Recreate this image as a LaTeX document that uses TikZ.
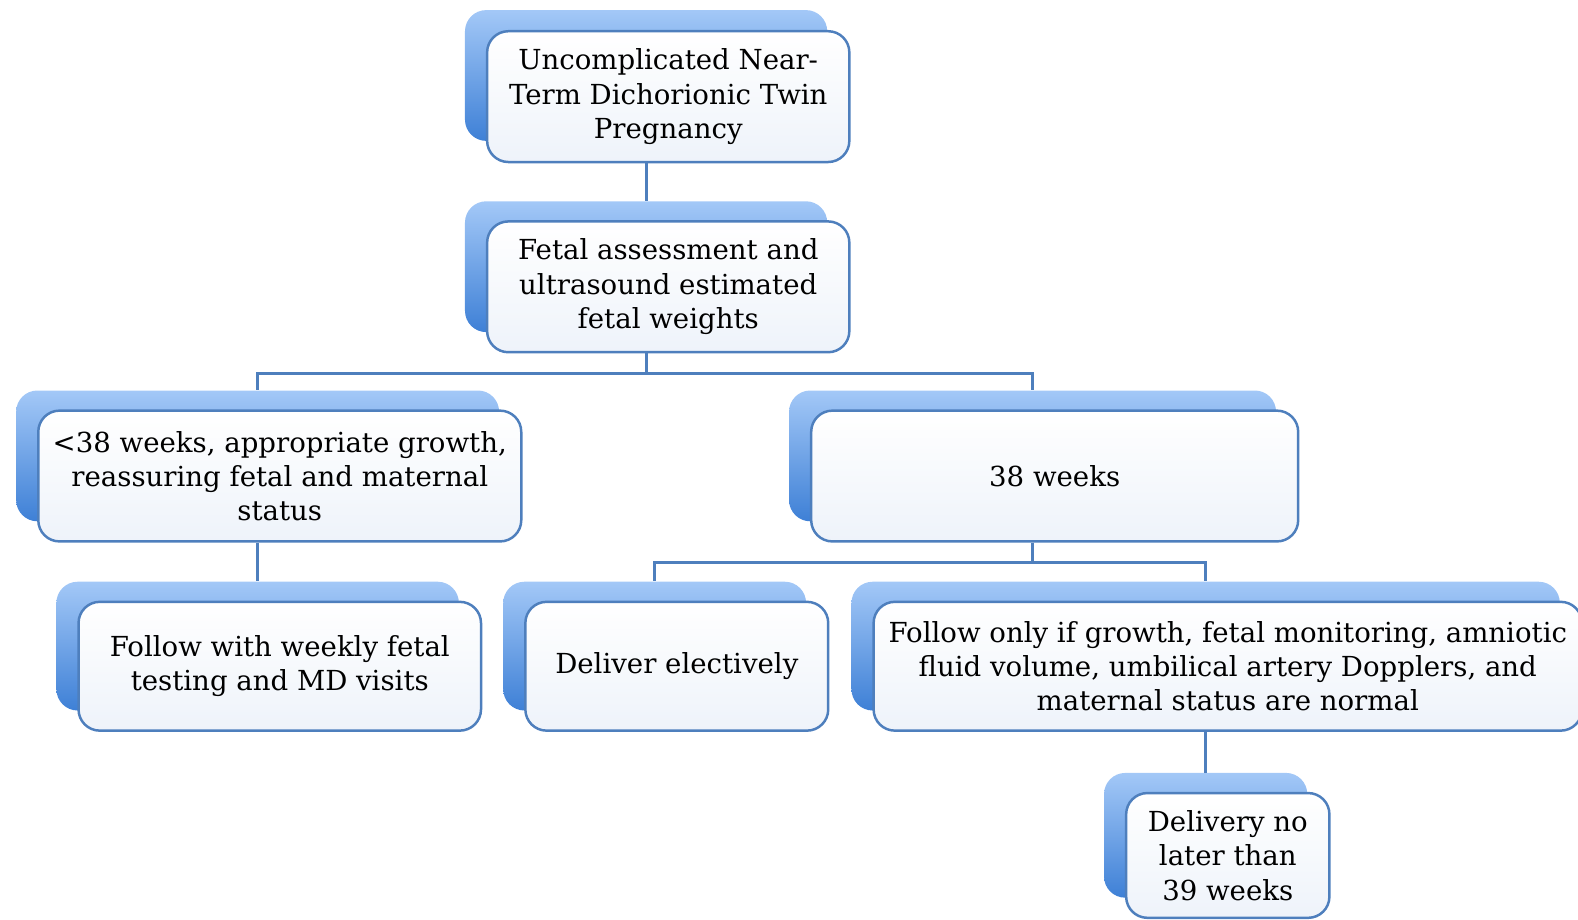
\documentclass[tikz,border=0pt]{standalone}
\usepackage{fontspec}
\setmainfont{DejaVu Serif}
\usepackage{tikz}
\usepackage{xcolor}
\definecolor{edgeblue}{HTML}{4E7FBD}
\definecolor{tabtop}{HTML}{A3C8F7}
\definecolor{tabbot}{HTML}{3E80D6}
\definecolor{facebot}{HTML}{EEF3FA}
\tikzset{
  tabbox/.style = {rounded corners=12pt, top color=tabtop, bottom color=tabbot,
    draw=none, inner sep=0pt},
  facebox/.style = {rounded corners=12pt, draw=edgeblue, line width=1.4pt,
    top color=white, bottom color=facebot, inner sep=0pt, align=center,
    font=\fontsize{15.6}{19.4}\selectfont},
  link/.style = {draw=edgeblue, line width=1.7pt}
}

\begin{document}
\begin{tikzpicture}[x=0.02cm, y=-0.02cm]
		\useasboundingbox (0, 0) rectangle (1568, 914);
		% top
		\node [tabbox, minimum width=7.2cm, minimum height=2.6cm] (twinT) at (642, 75) {};
		\node [facebox, minimum width=7.2cm, minimum height=2.6cm] (twin) at (664, 96)
		{Uncomplicated Near-\\Term Dichorionic Twin\\Pregnancy};
		\node [tabbox, minimum width=7.2cm, minimum height=2.6cm] (assessT) at (642, 265) {};
		\node [facebox, minimum width=7.2cm, minimum height=2.6cm] (assess) at (664, 285)
		{Fetal assessment and\\ultrasound estimated\\fetal weights};
		% second row
		\node [tabbox, minimum width=9.6cm, minimum height=2.6cm] (earlyT) at (256, 453) {};
		\node [facebox, minimum width=9.6cm, minimum height=2.6cm] (early) at (278, 473)
		{<38 weeks, appropriate growth,\\reassuring fetal and maternal\\status};
		\node [tabbox, minimum width=9.68cm, minimum height=2.6cm] (termT) at (1026, 453) {};
		\node [facebox, minimum width=9.68cm, minimum height=2.6cm] (term) at (1048, 473)
		{38 weeks};
		% third row
		\node [tabbox, minimum width=8cm, minimum height=2.56cm] (weeklyT) at (256, 642) {};
		\node [facebox, minimum width=8cm, minimum height=2.56cm] (weekly) at (278, 662)
		{Follow with weekly fetal\\testing and MD visits};
		\node [tabbox, minimum width=6.02cm, minimum height=2.56cm] (electT) at (650.5, 642) {};
		\node [facebox, minimum width=6.02cm, minimum height=2.56cm] (elect) at (672.5, 662)
		{Deliver electively};
		\node [tabbox, minimum width=14.08cm, minimum height=2.56cm] (normalT) at (1198, 642) {};
		\node [facebox, minimum width=14.08cm, minimum height=2.56cm] (normal) at (1220, 662)
		{Follow only if growth, fetal monitoring, amniotic\\fluid volume, umbilical artery Dopplers, and\\maternal status are normal};
		% last
		\node [tabbox, minimum width=4.04cm, minimum height=2.48cm] (lateT) at (1198, 830) {};
		\node [facebox, minimum width=4.04cm, minimum height=2.48cm] (late) at (1220, 850)
		{Delivery no\\later than\\39 weeks};
		% connectors
		\draw [link] (twinT |- twin.south) -- (assessT.north);
		\draw [link] (assessT |- assess.south) -- ++(0, 20) -| (earlyT.north);
		\draw [link] (assessT |- assess.south) -- ++(0, 20) -| (termT.north);
		\draw [link] (earlyT |- early.south) -- (weeklyT.north);
		\draw [link] (termT |- term.south) -- ++(0, 20) -| (electT.north);
		\draw [link] (termT |- term.south) -- ++(0, 20) -| (normalT.north);
		\draw [link] (normalT |- normal.south) -- (lateT.north);
	\end{tikzpicture}
\end{document}
